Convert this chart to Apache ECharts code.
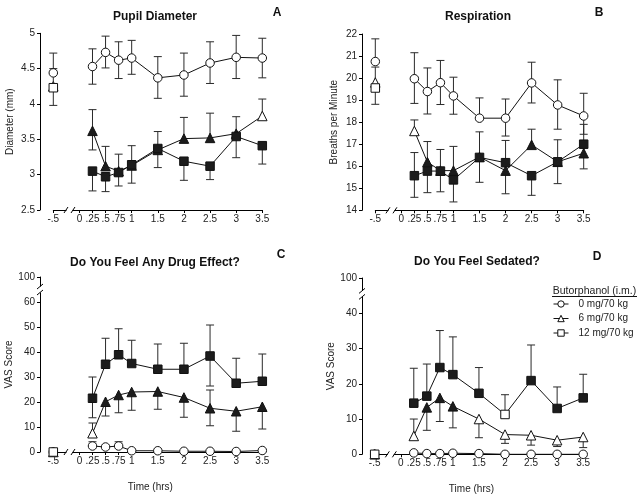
<!DOCTYPE html>
<html><head><meta charset="utf-8">
<script src="https://cdn.jsdelivr.net/npm/echarts@6/dist/echarts.min.js"></script>
<style>html,body{margin:0;padding:0;background:#fff}#c{width:644px;height:501px}</style>
</head><body><div id="c"></div><script>
// ---------- data ----------
const times = [-0.5, 0.25, 0.5, 0.75, 1, 1.5, 2, 2.5, 3, 3.5];
const xTickValues = [-0.5, 0, 0.25, 0.5, 0.75, 1, 1.5, 2, 2.5, 3, 3.5];
const xTickLabels = ['-.5', '0', '.25', '.5', '.75', '1', '1.5', '2', '2.5', '3', '3.5'];
const doseNames = ['0 mg/70 kg', '6 mg/70 kg', '12 mg/70 kg'];
const panelTitles = ['Pupil Diameter', 'Respiration', 'Do You Feel Any Drug Effect?', 'Do You Feel Sedated?'];
const panelLetters = ['A', 'B', 'C', 'D'];
const yNames = ['Diameter (mm)', 'Breaths per Minute', 'VAS Score', 'VAS Score'];
const xName = 'Time (hrs)';
const legendTitle = 'Butorphanol (i.m.)';

// Panel A: pupil diameter
const pupil0 = [4.44, 4.53, 4.73, 4.62, 4.65, 4.37, 4.41, 4.58, 4.66, 4.65];
const pupil0Hi = [4.72, 4.78, 4.96, 4.88, 4.90, 4.67, 4.72, 4.88, 4.97, 4.93];
const pupil0Lo = [null, 4.28, 4.51, 4.36, 4.42, 4.08, 4.11, 4.29, 4.36, 4.37];
const pupil6 = [4.25, 3.62, 3.12, 3.05, 3.13, 3.35, 3.51, 3.52, 3.58, 3.83];
const pupil6Hi = [4.50, 3.92, 3.40, 3.29, 3.41, 3.61, 3.81, 3.87, 3.82, 4.07];
const pupil6Lo = [null, 3.35, null, null, null, null, null, null, null, null];
const pupil6Filled = [0, 1, 1, 1, 1, 1, 1, 1, 1, 0];
const pupil12 = [4.23, 3.05, 2.97, 3.03, 3.14, 3.37, 3.19, 3.12, 3.54, 3.41];
const pupil12Hi = [null, null, null, null, null, null, null, null, null, null];
const pupil12Lo = [3.98, 2.77, 2.76, 2.84, 2.88, 3.10, 2.92, 2.93, 3.24, 3.15];
const pupil12Filled = [0, 1, 1, 1, 1, 1, 1, 1, 1, 1];

// Panel B: respiration
const resp0 = [20.75, 19.97, 19.39, 19.79, 19.19, 18.18, 18.18, 19.78, 18.78, 18.28];
const resp0Hi = [21.78, 21.15, 20.46, 20.80, 20.04, 19.10, 19.05, 20.72, 19.92, 19.31];
const resp0Lo = [null, 18.85, 18.37, 18.80, 18.36, null, 17.37, 18.87, 17.68, 17.45];
const resp6 = [19.80, 17.60, 16.19, 15.80, 15.80, 16.42, 15.80, 16.97, 16.20, 16.59];
const resp6Hi = [20.50, 18.10, 17.12, 16.76, 16.90, 17.56, 17.17, 17.68, 17.20, 17.90];
const resp6Lo = [null, null, null, null, null, null, null, null, null, null];
const resp6Filled = [0, 0, 1, 1, 1, 1, 1, 1, 1, 1];
const resp12 = [19.55, 15.57, 15.78, 15.78, 15.38, 16.40, 16.16, 15.57, 16.20, 17.00];
const resp12Hi = [null, 16.62, null, null, null, null, null, null, null, null];
const resp12Lo = [18.81, 14.59, 14.80, 14.84, 14.38, 15.27, 14.75, 14.68, 15.21, 15.88];
const resp12Filled = [0, 1, 1, 1, 1, 1, 1, 1, 1, 1];

// Panel C: any drug effect (VAS)
const effect0 = [0, 2.4, 2.0, 2.4, 0.5, 0.5, 0.3, 0.3, 0.2, 0.6];
const effect0Hi = [null, 4.1, null, 4.1, null, null, null, null, null, null];
const effect0Lo = [null, null, null, null, null, null, null, null, null, null];
const effect6 = [0, 7.5, 20.1, 22.8, 24.0, 24.2, 21.8, 17.5, 16.3, 18.1];
const effect6Hi = [null, 11.6, null, null, null, null, null, 24.8, null, null];
const effect6Lo = [null, null, 14.4, 15.7, 16.7, 17.1, 13.9, 10.5, 8.3, 9.2];
const effect6Filled = [0, 0, 1, 1, 1, 1, 1, 1, 1, 1];
const effect12 = [0, 21.5, 35.1, 38.9, 35.4, 33.1, 33.1, 38.4, 27.5, 28.3];
const effect12Hi = [null, 30.0, 45.5, 49.3, 44.7, 43.2, 43.5, 50.8, 37.5, 39.2];
const effect12Lo = [null, 13.7, null, null, null, null, null, 26.4, null, null];
const effect12Filled = [0, 1, 1, 1, 1, 1, 1, 1, 1, 1];

// Panel D: sedated (VAS)
const sed0 = [0, 0.4, 0.2, 0.2, 0.3, 0.2, 0, 0, 0, 0];
const sed0Hi = [null, null, null, null, null, null, null, null, null, null];
const sed0Lo = [null, null, null, null, null, null, null, null, null, null];
const sed6 = [0, 5.2, 13.3, 16.0, 13.6, 10.0, 5.6, 5.4, 4.0, 4.9];
const sed6Hi = [null, 10.0, null, null, null, null, null, null, null, null];
const sed6Lo = [null, null, 6.8, 9.3, 7.5, 4.7, 3.1, 2.6, 2.2, 1.9];
const sed6Filled = [0, 0, 1, 1, 1, 0, 0, 0, 0, 0];
const sed12 = [0, 14.5, 16.5, 24.6, 22.6, 17.3, 11.3, 20.9, 13.0, 16.0];
const sed12Hi = [null, 24.4, 25.6, 35.1, 33.3, 24.6, 16.9, 31.0, 19.1, 22.7];
const sed12Lo = [null, null, null, null, null, null, null, null, null, null];
const sed12Filled = [0, 1, 1, 1, 1, 1, 0, 1, 1, 1];

const placeboFilled = [0, 0, 0, 0, 0, 0, 0, 0, 0, 0];

// y-axis settings per panel
const yMins = [2.5, 14, 0, 0];
const yMaxs = [5, 22, 70, 50];
const yIntervals = [0.5, 1, 10, 10];
const yBreaks = [null, null, 65, 45.5];
const yTopLabels = [null, null, '100', '100'];

// ---------- build ----------
const FONT = 'Liberation Sans, Arial, Helvetica, sans-serif';
const INK = '#111';
const grids = [
  {left: 53.3, top: 33.3, width: 209, height: 176.7},
  {left: 375.3, top: 34, width: 208.4, height: 176.3},
  {left: 53.3, top: 277, width: 209, height: 175},
  {left: 374.7, top: 278, width: 208.5, height: 176.3}
];
const yOffsets = [13.3, 13.3, 13.3, 12.7];
const yNameGaps = [25, 23, 25, 25];

const panels = [
  [[pupil0, pupil0Hi, pupil0Lo, placeboFilled], [pupil6, pupil6Hi, pupil6Lo, pupil6Filled], [pupil12, pupil12Hi, pupil12Lo, pupil12Filled]],
  [[resp0, resp0Hi, resp0Lo, placeboFilled], [resp6, resp6Hi, resp6Lo, resp6Filled], [resp12, resp12Hi, resp12Lo, resp12Filled]],
  [[effect0, effect0Hi, effect0Lo, placeboFilled], [effect6, effect6Hi, effect6Lo, effect6Filled], [effect12, effect12Hi, effect12Lo, effect12Filled]],
  [[sed0, sed0Hi, sed0Lo, placeboFilled], [sed6, sed6Hi, sed6Lo, sed6Filled], [sed12, sed12Hi, sed12Lo, sed12Filled]]
];
const symbols = ['circle', 'triangle', 'rect'];
const symbolSizes = [8.5, 9.5, 8.5];

function errSeries(gi, means, his, los) {
  const data = times.map((t, i) => [t, means[i], his[i] == null ? '-' : his[i], los[i] == null ? '-' : los[i]]);
  return {
    type: 'custom', xAxisIndex: gi, yAxisIndex: gi, silent: true, z: 1, data,
    encode: {x: 0, y: 1},
    renderItem: (params, api) => {
      const x = api.value(0), m = api.value(1);
      const pm = api.coord([x, m]);
      const ch = [];
      const st = {stroke: '#2a2a2a', lineWidth: 1};
      [api.value(2), api.value(3)].forEach(v => {
        if (v == null || isNaN(v)) return;
        const pv = api.coord([x, v]);
        ch.push({type: 'line', shape: {x1: pm[0], y1: pm[1], x2: pv[0], y2: pv[1]}, style: st});
        ch.push({type: 'line', shape: {x1: pv[0] - 4, y1: pv[1], x2: pv[0] + 4, y2: pv[1]}, style: st});
      });
      return {type: 'group', children: ch};
    }
  };
}

function lineSeries(gi, d, means, filled) {
  const data = [];
  times.forEach((t, i) => {
    const item = {value: [t, means[i]]};
    if (filled[i]) item.itemStyle = {color: '#1c1c1c'};
    data.push(item);
    if (i === 0) data.push({value: [0, '-']});
  });
  return {
    type: 'line', name: doseNames[d], xAxisIndex: gi, yAxisIndex: gi, data,
    symbol: symbols[d], symbolSize: symbolSizes[d], showSymbol: true, showAllSymbol: true,
    connectNulls: false, z: 3 + d,
    lineStyle: {color: INK, width: 1},
    itemStyle: {color: '#fff', borderColor: INK, borderWidth: 1},
    emphasis: {disabled: true}, animation: false
  };
}

function breakSeries(gi, kind, xv, yv, yOff) {
  return {
    type: 'custom', xAxisIndex: gi, yAxisIndex: gi, silent: true, z: 20, clip: false,
    data: [[xv, yv]],
    renderItem: (params, api) => {
      const p = api.coord([api.value(0), api.value(1)]);
      const s = {stroke: '#000', lineWidth: 1};
      if (kind === 'x') {
        const cx = p[0], cy = p[1];
        return {type: 'group', children: [
          {type: 'rect', shape: {x: cx - 3, y: cy - 2, width: 6, height: 4}, style: {fill: '#fff'}},
          {type: 'line', shape: {x1: cx - 5.5, y1: cy + 3, x2: cx - 1.5, y2: cy - 3}, style: s},
          {type: 'line', shape: {x1: cx + 1.5, y1: cy + 3, x2: cx + 5.5, y2: cy - 3}, style: s}
        ]};
      }
      const ax = p[0] - yOff, cy = p[1];
      return {type: 'group', children: [
        {type: 'rect', shape: {x: ax - 2, y: cy - 3, width: 4, height: 6}, style: {fill: '#fff'}},
        {type: 'line', shape: {x1: ax - 3, y1: cy - 0.5, x2: ax + 3, y2: cy - 5.5}, style: s},
        {type: 'line', shape: {x1: ax - 3, y1: cy + 5.5, x2: ax + 3, y2: cy + 0.5}, style: s}
      ]};
    }
  };
}

const xAxes = [], yAxes = [], series = [];
grids.forEach((g, gi) => {
  xAxes.push({
    type: 'value', gridIndex: gi, min: -0.5, max: 3.5,
    name: gi >= 2 ? xName : '', nameLocation: 'middle', nameGap: 30,
    nameTextStyle: {fontSize: 10, color: '#222', fontFamily: FONT, padding: [0, 15, 0, 0]},
    axisLine: {show: true, onZero: false, lineStyle: {color: '#000', width: 1}},
    axisTick: {show: true, inside: false, length: 3, customValues: xTickValues, lineStyle: {color: '#000'}},
    axisLabel: {show: true, customValues: xTickValues, margin: 4, fontSize: 10, color: '#222', fontFamily: FONT,
      formatter: v => { const k = xTickValues.findIndex(t => Math.abs(t - v) < 1e-6); return k >= 0 ? xTickLabels[k] : ''; }},
    splitLine: {show: false}
  });
  const top = yTopLabels[gi];
  yAxes.push({
    type: 'value', gridIndex: gi, min: yMins[gi], max: yMaxs[gi], interval: yIntervals[gi],
    offset: yOffsets[gi],
    name: yNames[gi], nameLocation: 'middle', nameGap: yNameGaps[gi],
    nameTextStyle: {fontSize: 10, color: '#222', fontFamily: FONT},
    axisLine: {show: true, onZero: false, lineStyle: {color: '#000', width: 1}},
    axisTick: {show: true, inside: false, length: 3, lineStyle: {color: '#000'}},
    axisLabel: {margin: 5, fontSize: 10, color: '#222', fontFamily: FONT,
      formatter: v => (top && Math.abs(v - yMaxs[gi]) < 1e-6) ? top : String(v)},
    splitLine: {show: false}
  });
  panels[gi].forEach((s) => {
    series.push(errSeries(gi, s[0], s[1], s[2]));
  });
  panels[gi].forEach((s, d) => {
    series.push(lineSeries(gi, d, s[0], s[3]));
  });
  series.push(breakSeries(gi, 'x', -0.19, yMins[gi], 0));
  if (yBreaks[gi] != null) series.push(breakSeries(gi, 'y', -0.5, yBreaks[gi], yOffsets[gi]));
});

const titlePos = [[155, 17], [478, 17], [155, 263], [477, 262]];
const letterPos = [[277, 13], [599, 13], [281, 255], [597, 257]];
const titles = [];
panelTitles.forEach((t, i) => titles.push({
  text: t, left: titlePos[i][0], top: titlePos[i][1], padding: 0, textAlign: 'center', textVerticalAlign: 'middle',
  textStyle: {fontSize: 12, fontWeight: 'bold', color: '#111', fontFamily: FONT}
}));
panelLetters.forEach((t, i) => titles.push({
  text: t, left: letterPos[i][0], top: letterPos[i][1], padding: 0, textAlign: 'center', textVerticalAlign: 'middle',
  textStyle: {fontSize: 12, fontWeight: 'bold', color: '#111', fontFamily: FONT}
}));
titles.push({
  text: legendTitle, left: 594.5, top: 291, padding: 0, textAlign: 'center', textVerticalAlign: 'middle',
  textStyle: {fontSize: 10.5, fontWeight: 'normal', color: '#222', fontFamily: FONT}
});

const option = {
  animation: false,
  backgroundColor: '#fff',
  textStyle: {fontFamily: FONT},
  title: titles,
  grid: grids.map(g => Object.assign({containLabel: false}, g)),
  xAxis: xAxes,
  yAxis: yAxes,
  legend: {
    data: doseNames, orient: 'vertical', left: 553, top: 299, padding: 0,
    itemWidth: 15, itemHeight: 8, itemGap: 4.5, selectedMode: false,
    itemStyle: {color: '#fff', borderColor: INK, borderWidth: 1},
    lineStyle: {color: INK, width: 1},
    textStyle: {fontSize: 10, color: '#222', fontFamily: FONT, padding: [0, 0, 0, 5]}
  },
  graphic: [
    {type: 'line', shape: {x1: 552, y1: 296.5, x2: 637, y2: 296.5}, style: {stroke: '#111', lineWidth: 1}, silent: true}
  ],
  series
};
const chart = echarts.init(document.getElementById('c'), null, {renderer: 'canvas'});
chart.setOption(option);
</script></body></html>
